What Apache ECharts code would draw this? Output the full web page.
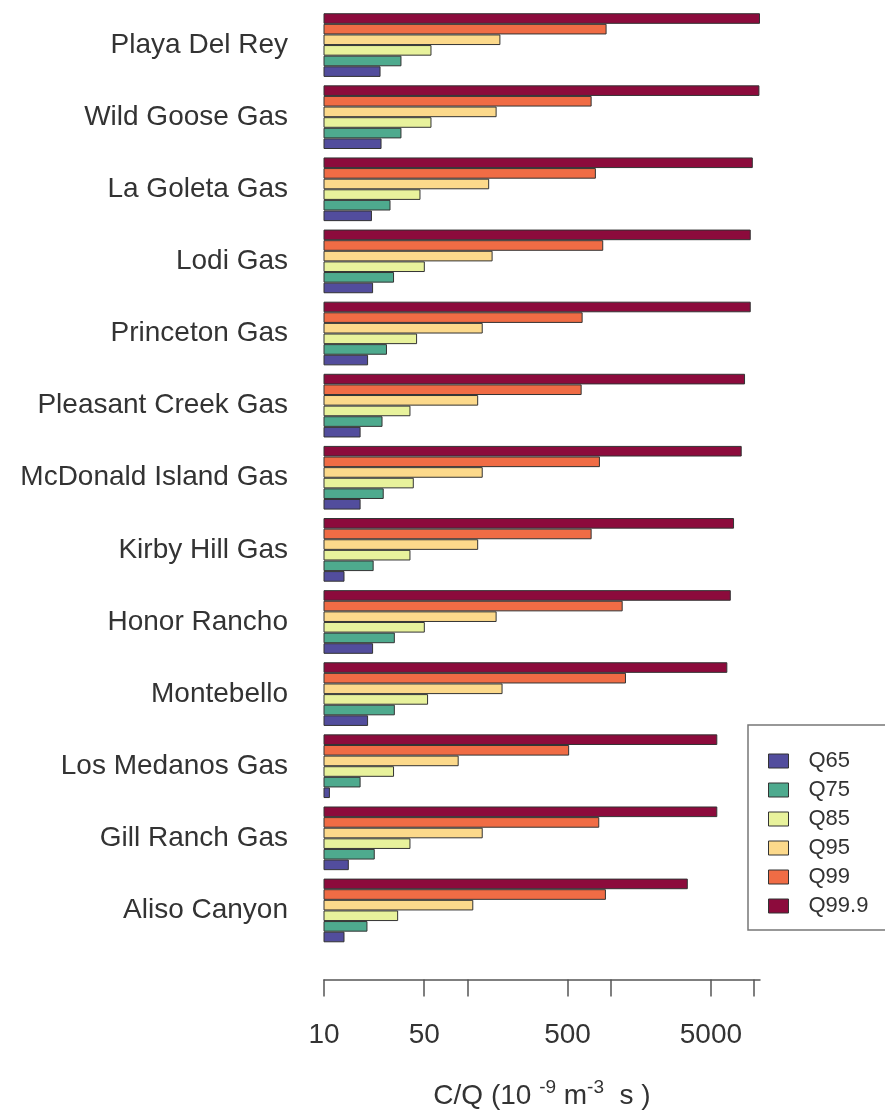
<!DOCTYPE html>
<html>
<head>
<meta charset="utf-8">
<script src="https://cdn.jsdelivr.net/npm/echarts@6/dist/echarts.min.js"></script>
<style>
html,body{margin:0;padding:0;background:#fff;}
#chart{width:885px;height:1115px;}
</style>
</head>
<body>
<div id="chart"></div>
<script>
// Categories, top to bottom as shown
const sites = ["Playa Del Rey","Wild Goose Gas","La Goleta Gas","Lodi Gas","Princeton Gas","Pleasant Creek Gas","McDonald Island Gas","Kirby Hill Gas","Honor Rancho","Montebello","Los Medanos Gas","Gill Ranch Gas","Aliso Canyon"];
const seriesNames = ["Q65","Q75","Q85","Q95","Q99","Q99.9"];
// Values (C/Q, 10^-9 m^-3 s), same order as sites
const q65  = [24.8, 25.2, 21.6, 22.0, 20.3, 18.0, 18.0, 13.9, 22.0, 20.3, 11.0, 14.9, 13.9];
const q75  = [34.7, 34.7, 29.1, 30.8, 27.5, 25.6, 26.1, 22.2, 31.2, 31.2, 18.0, 22.6, 20.1];
const q85  = [56.2, 56.2, 47.1, 50.5, 44.6, 40.1, 42.3, 40.1, 50.5, 53.2, 30.8, 40.1, 32.9];
const q95  = [170, 160, 142, 150, 128, 119, 128, 119, 160, 176, 87, 128, 110];
const q99  = [936, 736, 788, 887, 637, 627, 841, 736, 1212, 1278, 513, 832, 926];
const q999 = [11000, 10900, 9800, 9480, 9480, 8650, 8200, 7250, 6880, 6510, 5540, 5540, 3450];
const tickValues = [10, 50, 100, 500, 1000, 5000, 10000];
const tickLabels = [10, 50, 500, 5000];
const colors = ["#524d9d","#4eaa8e","#e8f29c","#fcd98b","#f06c45","#8c0b3c"];

const allSeries = [q65, q75, q85, q95, q99, q999];
const cats = sites.slice().reverse();

// within each group the highest quantile is drawn on top, so series are added in reverse
const order = [5, 4, 3, 2, 1, 0];

const chart = echarts.init(document.getElementById('chart'), null, {renderer: 'canvas'});
const font = '"Liberation Sans", Arial, Helvetica, sans-serif';
chart.setOption({
  animation: false,
  backgroundColor: '#ffffff',
  textStyle: {fontFamily: font},
  grid: {left: 324, right: 125, top: 9, bottom: 163, containLabel: false},
  legend: {
    orient: 'vertical',
    left: 748, top: 725,
    data: seriesNames,
    itemWidth: 20, itemHeight: 14,
    itemGap: 7,
    itemStyle: {borderColor: '#333', borderWidth: 1},
    textStyle: {fontSize: 22, color: '#333', fontFamily: font, padding: [0, 0, 0, 15]},
    padding: [25, 20, 13, 20],
    borderColor: '#777', borderWidth: 1.5,
    icon: 'rect',
    selectedMode: false
  },
  xAxis: {
    type: 'log', logBase: 10,
    min: 10, max: 11000,
    offset: 33,
    axisLine: {show: true, lineStyle: {color: '#555', width: 1.5}},
    axisTick: {show: true, length: 17, lineStyle: {color: '#555', width: 1.5}, customValues: tickValues},
    axisLabel: {show: true, fontSize: 28, color: '#333', margin: 42, customValues: tickLabels, formatter: v => String(v)},
    splitLine: {show: false},
    minorTick: {show: false},
    name: 'C/Q (10 {sup|-9} m{sup|-3}  s )',
    nameLocation: 'middle',
    nameGap: 99,
    nameTextStyle: {
      fontSize: 28, color: '#333',
      rich: {sup: {fontSize: 19, color: '#333', padding: [0, 0, 16, 0]}}
    }
  },
  yAxis: {
    type: 'category',
    data: cats,
    axisLine: {show: false},
    axisTick: {show: false},
    axisLabel: {fontSize: 28, color: '#333', margin: 36},
    splitLine: {show: false}
  },
  series: order.map(i => ({
    name: seriesNames[i],
    type: 'bar',
    data: allSeries[i].slice().reverse(),
    barGap: '0%',
    barCategoryGap: '11.7%',
    clip: true,
    itemStyle: {color: colors[i], borderColor: '#333', borderWidth: 1}
  }))
});
</script>
</body>
</html>
